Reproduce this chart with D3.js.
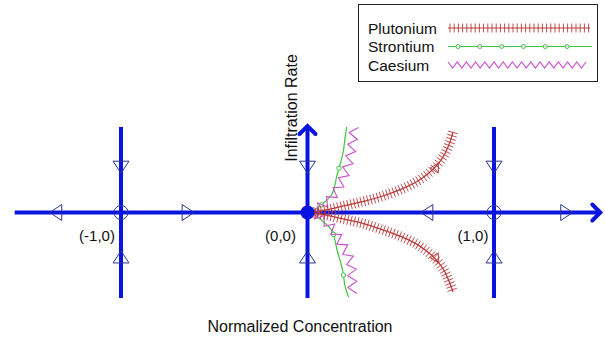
<!DOCTYPE html>
<html>
<head>
<meta charset="utf-8">
<script src="https://cdn.jsdelivr.net/npm/d3@7"></script>
<style>
  body { margin: 0; background: #fff; }
  svg text { font-family: "Liberation Sans", Arial, sans-serif; fill: #111; }
</style>
</head>
<body>
<svg id="chart" width="605" height="338"></svg>
<script>
// phase-plane data (normalized concentration vs infiltration rate)
const equilibria = [-1, 0, 1];
const eqLabels = ["(-1,0)", "(0,0)", "(1,0)"];

// flow direction markers on the axes: [x, y, direction]
const hFlow = [[-1.35, 0, "left"], [-0.64, 0, "right"], [0.64, 0, "left"], [1.39, 0, "right"]];
const vFlow = [[-1, 0.53, "down"], [-1, -0.52, "up"], [0, 0.53, "down"], [0, -0.52, "up"], [1, 0.53, "down"], [1, -0.52, "up"]];

const puUpper = [[0.02,0.0],[0.1,0.03],[0.2,0.08],[0.3,0.13],[0.4,0.19],[0.5,0.27],[0.6,0.38],[0.68,0.52],[0.73,0.66],[0.76,0.8],[0.78,0.94]];
const puLower = [[0.02,0.0],[0.1,-0.03],[0.2,-0.08],[0.3,-0.13],[0.4,-0.2],[0.5,-0.28],[0.6,-0.39],[0.68,-0.53],[0.73,-0.67],[0.76,-0.81],[0.78,-0.93]];
const srCurve = [[0.21,1.0],[0.2,0.85],[0.19,0.69],[0.16,0.45],[0.13,0.21],[0.07,0.08],[0.03,0.0],[0.07,-0.08],[0.13,-0.21],[0.16,-0.45],[0.19,-0.69],[0.2,-0.85],[0.22,-0.99]];
const csCurve = [[0.25,1.0],[0.24,0.8],[0.22,0.58],[0.18,0.35],[0.12,0.15],[0.04,0.0],[0.12,-0.15],[0.18,-0.35],[0.23,-0.57],[0.24,-0.8],[0.24,-0.99]];

const series = ["Plutonium", "Strontium", "Caesium"];
const colors = {Plutonium: "#b83a3a", Strontium: "#3ec43e", Caesium: "#cc4fcc"};

const svg = d3.select("#chart");
const x = d3.scaleLinear().domain([-1, 1]).range([121, 494]);
const y = d3.scaleLinear().domain([-1, 1]).range([298, 127]);
const blue = "#0a14e0", navy = "#2a3590";

const line = d3.line().x(d => x(d[0])).y(d => y(d[1])).curve(d3.curveCatmullRom);

// axes
svg.append("line").attr("x1", x(-1.57)).attr("x2", x(1.57) - 2).attr("y1", y(0)).attr("y2", y(0))
  .attr("stroke", blue).attr("stroke-width", 4);
equilibria.forEach(e => {
  svg.append("line").attr("x1", x(e)).attr("x2", x(e)).attr("y1", y(-1)).attr("y2", e === 0 ? y(1) + 2 : y(1))
    .attr("stroke", blue).attr("stroke-width", 4);
});
// arrow heads
const chevron = (px, py, rot) => svg.append("path")
  .attr("d", "M-8,-8 L0,0 L-8,8")
  .attr("transform", `translate(${px},${py}) rotate(${rot})`)
  .attr("fill", "none").attr("stroke", blue).attr("stroke-width", 4).attr("stroke-linecap", "round");
chevron(x(1.57), y(0), 0);
chevron(x(0), y(1) - 1, -90);

// flow markers
const tri = (px, py, dir, col, len, half) => {
  const rot = {right: 0, down: 90, left: 180, up: 270}[dir];
  svg.append("path").attr("d", `M${-len / 2},${-half} L${len / 2},0 L${-len / 2},${half} Z`)
    .attr("transform", `translate(${px},${py}) rotate(${rot})`)
    .attr("fill", "none").attr("stroke", col).attr("stroke-width", 1);
};
hFlow.forEach(d => tri(x(d[0]), y(d[1]), d[2], navy, 12, 8));
vFlow.forEach(d => tri(x(d[0]), y(d[1]), d[2], navy, 12, 8));

// equilibrium points
svg.append("circle").attr("cx", x(-1)).attr("cy", y(0)).attr("r", 7).attr("fill", "none").attr("stroke", navy).attr("stroke-width", 1);
svg.append("circle").attr("cx", x(1)).attr("cy", y(0)).attr("r", 7).attr("fill", "none").attr("stroke", navy).attr("stroke-width", 1);

// helpers to decorate a path
function sample(pathNode, step) {
  const L = pathNode.getTotalLength(), pts = [];
  for (let s = 0; s <= L; s += step) {
    const p = pathNode.getPointAtLength(s);
    const q = pathNode.getPointAtLength(Math.min(L, s + 0.5));
    const r = pathNode.getPointAtLength(Math.max(0, s - 0.5));
    const ang = Math.atan2(q.y - r.y, q.x - r.x);
    pts.push({x: p.x, y: p.y, a: ang});
  }
  return pts;
}

// Strontium
const sr = svg.append("path").attr("d", line(srCurve)).attr("fill", "none")
  .attr("stroke", colors.Strontium).attr("stroke-width", 1.2);
sample(sr.node(), 42).slice(1).forEach(p => {
  svg.append("circle").attr("cx", p.x).attr("cy", p.y).attr("r", 2.2)
    .attr("fill", "#fff").attr("stroke", colors.Strontium).attr("stroke-width", 1);
});

// Caesium zigzag
const csBase = svg.append("path").attr("d", line(csCurve)).attr("fill", "none").attr("stroke", "none");
const zz = sample(csBase.node(), 6).map((p, i) => {
  const o = (i % 2 ? 4.5 : -4.5);
  return [p.x - Math.sin(p.a) * o, p.y + Math.cos(p.a) * o];
});
svg.append("path").attr("d", d3.line()(zz)).attr("fill", "none")
  .attr("stroke", colors.Caesium).attr("stroke-width", 1.1);

// Plutonium with cross ticks
[puUpper, puLower].forEach(c => {
  const pu = svg.append("path").attr("d", line(c)).attr("fill", "none")
    .attr("stroke", colors.Plutonium).attr("stroke-width", 1.3);
  sample(pu.node(), 3.4).forEach(p => {
    const dx = -Math.sin(p.a) * 5, dy = Math.cos(p.a) * 5;
    svg.append("line").attr("x1", p.x - dx).attr("y1", p.y - dy).attr("x2", p.x + dx).attr("y2", p.y + dy)
      .attr("stroke", colors.Plutonium).attr("stroke-width", 0.9);
  });
  const m = c[7];
  tri(x(m[0]), y(m[1]), "left", colors.Plutonium, 8, 5);
});

// origin
svg.append("circle").attr("cx", x(0)).attr("cy", y(0)).attr("r", 7).attr("fill", blue);

// labels
const lblX = [x(-1) - 24, x(0) - 27, x(1) - 21];
eqLabels.forEach((t, i) => {
  svg.append("text").attr("x", lblX[i]).attr("y", 241).attr("text-anchor", "middle")
    .attr("font-size", 15).text(t);
});
svg.append("text").attr("transform", `translate(297,108) rotate(-90)`).attr("text-anchor", "middle")
  .attr("font-size", 16).text("Infiltration Rate");
svg.append("text").attr("x", 300).attr("y", 332).attr("text-anchor", "middle")
  .attr("font-size", 16).text("Normalized Concentration");

// legend
const lg = svg.append("g");
lg.append("rect").attr("x", 358.5).attr("y", 4.5).attr("width", 239).attr("height", 77)
  .attr("fill", "#fff").attr("stroke", "#222").attr("stroke-width", 1);
series.forEach((s, i) => {
  const yy = 28 + i * 18.5;
  lg.append("text").attr("x", 368).attr("y", yy + 5.5).attr("font-size", 15.5).text(s);
  if (s === "Plutonium") {
    lg.append("line").attr("x1", 448).attr("x2", 590).attr("y1", yy).attr("y2", yy)
      .attr("stroke", colors[s]).attr("stroke-width", 1.2);
    d3.range(450, 591, 4.2).forEach(t => lg.append("line").attr("x1", t).attr("x2", t)
      .attr("y1", yy - 4.5).attr("y2", yy + 4.5).attr("stroke", colors[s]).attr("stroke-width", 0.9));
  } else if (s === "Strontium") {
    lg.append("line").attr("x1", 448).attr("x2", 592).attr("y1", yy).attr("y2", yy)
      .attr("stroke", colors[s]).attr("stroke-width", 1.2);
    d3.range(458, 580, 21.8).forEach(t => lg.append("circle").attr("cx", t).attr("cy", yy).attr("r", 2)
      .attr("fill", "#fff").attr("stroke", colors[s]).attr("stroke-width", 1));
  } else {
    const pts = d3.range(448, 586, 4.6).map((t, j) => [t, yy + (j % 2 ? 3 : -3)]);
    lg.append("path").attr("d", d3.line()(pts)).attr("fill", "none")
      .attr("stroke", colors[s]).attr("stroke-width", 1.1);
  }
});
</script>
</body>
</html>
